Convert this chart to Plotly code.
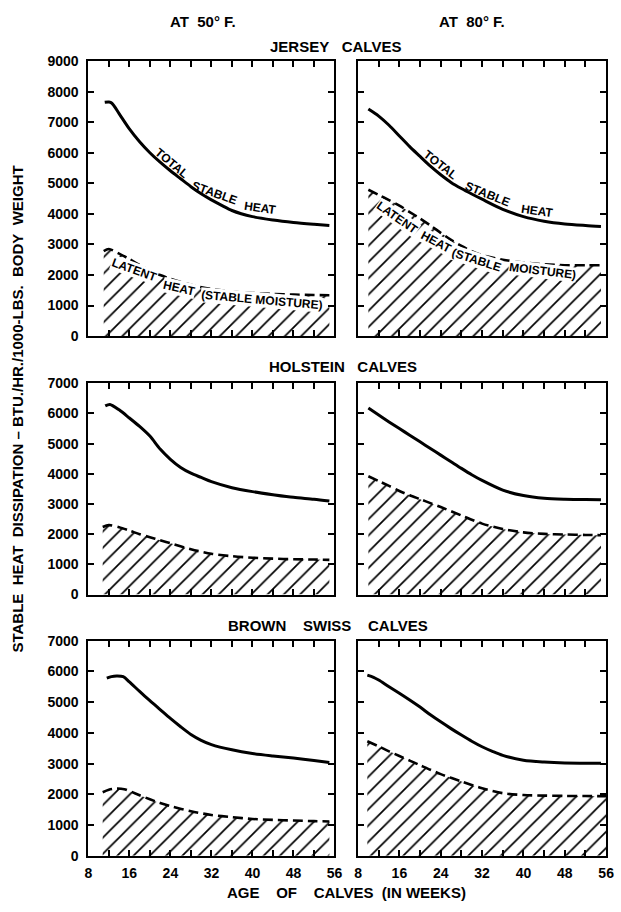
import plotly.graph_objects as go

# ---------------- data ----------------
x_tick_vals = [8, 12, 16, 20, 24, 28, 32, 36, 40, 44, 48, 52, 56]
x_tick_text = ["8", "", "16", "", "24", "", "32", "", "40", "", "48", "", "56"]
y_ticks_jersey = [0, 1000, 2000, 3000, 4000, 5000, 6000, 7000, 8000, 9000]
y_ticks_other = [0, 1000, 2000, 3000, 4000, 5000, 6000, 7000]

# Jersey at 50 F
jersey50_total_x = [11.2, 12.0, 12.6, 14, 16, 18, 20, 22, 24, 26, 28, 30, 32, 34, 36, 40, 44, 48, 52, 55]
jersey50_total_y = [7650, 7660, 7620, 7280, 6780, 6360, 6000, 5690, 5410, 5150, 4890, 4660, 4460, 4280, 4110, 3910, 3800, 3720, 3660, 3620]
jersey50_latent_x = [11, 12, 14, 16, 18, 20, 22, 24, 28, 32, 36, 40, 44, 48, 52, 55]
jersey50_latent_y = [2780, 2850, 2700, 2520, 2330, 2150, 2000, 1880, 1680, 1540, 1460, 1410, 1380, 1360, 1345, 1340]

# Jersey at 80 F
jersey80_total_x = [10, 12, 14, 16, 18, 20, 22, 24, 26, 28, 30, 32, 36, 40, 44, 48, 52, 55]
jersey80_total_y = [7430, 7200, 6900, 6550, 6200, 5880, 5560, 5280, 5030, 4830, 4650, 4480, 4150, 3910, 3760, 3670, 3620, 3590]
jersey80_latent_x = [10, 12, 14, 16, 18, 20, 22, 24, 26, 28, 30, 32, 36, 40, 44, 48, 52, 55]
jersey80_latent_y = [4790, 4620, 4450, 4270, 4060, 3850, 3620, 3380, 3150, 2950, 2780, 2650, 2500, 2410, 2350, 2320, 2320, 2320]

# Holstein at 50 F
holstein50_total_x = [11.3, 12.2, 14, 16, 18, 20, 22, 24, 26, 28, 30, 32, 36, 40, 44, 48, 52, 55]
holstein50_total_y = [6250, 6300, 6120, 5850, 5570, 5250, 4820, 4480, 4210, 4020, 3880, 3740, 3540, 3410, 3310, 3220, 3160, 3100]
holstein50_latent_x = [10.8, 12, 14, 16, 18, 20, 22, 24, 28, 32, 36, 40, 44, 48, 52, 55]
holstein50_latent_y = [2240, 2300, 2230, 2120, 2000, 1900, 1800, 1700, 1500, 1350, 1270, 1220, 1190, 1170, 1160, 1150]

# Holstein at 80 F
holstein80_total_x = [10, 12, 14, 16, 18, 20, 22, 24, 26, 28, 30, 32, 36, 40, 44, 48, 52, 55]
holstein80_total_y = [6180, 5950, 5720, 5500, 5280, 5060, 4840, 4620, 4400, 4180, 3970, 3780, 3460, 3280, 3190, 3160, 3150, 3140]
holstein80_latent_x = [10, 12, 14, 16, 18, 20, 22, 24, 28, 32, 36, 40, 44, 48, 52, 55]
holstein80_latent_y = [3920, 3760, 3600, 3430, 3290, 3160, 3030, 2900, 2620, 2350, 2170, 2060, 2010, 1990, 1975, 1965]

# Brown Swiss at 50 F
brown50_total_x = [11.6, 12.5, 13.5, 14.8, 16, 18, 20, 22, 24, 26, 28, 30, 32, 36, 40, 44, 48, 52, 55]
brown50_total_y = [5780, 5830, 5850, 5830, 5660, 5350, 5050, 4760, 4470, 4200, 3950, 3760, 3620, 3450, 3330, 3250, 3180, 3100, 3040]
brown50_latent_x = [10.8, 12, 13.5, 15, 16, 18, 20, 22, 24, 28, 32, 36, 40, 44, 48, 52, 55]
brown50_latent_y = [2070, 2150, 2190, 2170, 2110, 1970, 1840, 1720, 1620, 1450, 1330, 1260, 1200, 1170, 1150, 1130, 1120]

# Brown Swiss at 80 F
brown80_total_x = [9.8, 11, 12, 14, 16, 18, 20, 22, 24, 26, 28, 30, 32, 34, 36, 40, 44, 48, 52, 55]
brown80_total_y = [5880, 5810, 5720, 5500, 5290, 5070, 4840, 4590, 4360, 4140, 3930, 3730, 3550, 3400, 3270, 3110, 3050, 3020, 3015, 3010]
brown80_latent_x = [9.8, 12, 14, 16, 18, 20, 22, 24, 28, 32, 36, 40, 44, 48, 52, 56]
brown80_latent_y = [3730, 3560, 3400, 3250, 3100, 2950, 2800, 2660, 2420, 2200, 2040, 1980, 1960, 1950, 1945, 1940]

# ---------------- figure ----------------
W, H = 621, 912
FONT = "Liberation Sans"

def px(x):
    return x / W

def py(y):
    return 1 - y / H

x_dom_left = [px(86), px(337)]
x_dom_right = [px(361), px(614)]
y_dom = {
    "jersey": [py(334), py(54)],
    "holstein": [py(597), py(382)],
    "brown": [py(863), py(644)],
}

panels = [
    (1, "left", "jersey", jersey50_total_x, jersey50_total_y, jersey50_latent_x, jersey50_latent_y),
    (2, "right", "jersey", jersey80_total_x, jersey80_total_y, jersey80_latent_x, jersey80_latent_y),
    (3, "left", "holstein", holstein50_total_x, holstein50_total_y, holstein50_latent_x, holstein50_latent_y),
    (4, "right", "holstein", holstein80_total_x, holstein80_total_y, holstein80_latent_x, holstein80_latent_y),
    (5, "left", "brown", brown50_total_x, brown50_total_y, brown50_latent_x, brown50_latent_y),
    (6, "right", "brown", brown80_total_x, brown80_total_y, brown80_latent_x, brown80_latent_y),
]

fig = go.Figure()
layout = {}

for idx, col, row, tx, ty, lx, ly in panels:
    xa = "x" if idx == 1 else f"x{idx}"
    ya = "y" if idx == 1 else f"y{idx}"
    fig.add_trace(go.Scatter(
        x=lx, y=ly, xaxis=xa, yaxis=ya, mode="lines",
        line=dict(color="black", width=2.6, dash="10px,5px", shape="spline", smoothing=0.8),
        fill="tozeroy", fillcolor="rgba(0,0,0,0)",
        fillpattern=dict(shape="/", fgcolor="black", fgopacity=1,
                         bgcolor="rgba(255,255,255,0)", size=11.5, solidity=0.15),
        showlegend=False, hoverinfo="skip",
    ))
    fig.add_trace(go.Scatter(
        x=tx, y=ty, xaxis=xa, yaxis=ya, mode="lines",
        line=dict(color="black", width=3, shape="spline", smoothing=0.8),
        showlegend=False, hoverinfo="skip",
    ))
    bottom = row == "brown"
    xk = "xaxis" if idx == 1 else f"xaxis{idx}"
    yk = "yaxis" if idx == 1 else f"yaxis{idx}"
    layout[xk] = dict(
        domain=x_dom_left if col == "left" else x_dom_right,
        anchor=ya, range=[8, 56],
        tickmode="array", tickvals=x_tick_vals, ticktext=x_tick_text,
        showticklabels=bottom, ticks="inside", ticklen=6, tickwidth=2, tickcolor="black",
        showline=True, linewidth=2, linecolor="black", mirror="ticks",
        showgrid=False, zeroline=False, ticklabelstandoff=3,
        tickfont=dict(family=FONT, size=14, color="black", weight="bold"),
    )
    yt = y_ticks_jersey if row == "jersey" else y_ticks_other
    layout[yk] = dict(
        domain=y_dom[row], anchor=xa, range=[0, yt[-1]],
        tickmode="array", tickvals=yt, ticktext=[str(v) for v in yt],
        showticklabels=(col == "left"), ticks="inside", ticklen=6, tickwidth=2, tickcolor="black",
        showline=True, linewidth=2, linecolor="black", mirror="ticks",
        showgrid=False, zeroline=False, ticklabelstandoff=5,
        tickfont=dict(family=FONT, size=14, color="black", weight="bold"),
    )

annotations = []
NB = "\u00a0"

def paper_text(text, x, y, size=15, angle=0):
    annotations.append(dict(
        text=text, x=px(x), y=py(y), xref="paper", yref="paper",
        showarrow=False, textangle=angle, xanchor="center", yanchor="middle",
        font=dict(family=FONT, size=size, color="black", weight="bold"),
    ))

paper_text(f"AT{NB}{NB}50\u00b0{NB}F.", 203, 14)
paper_text(f"AT{NB}{NB}80\u00b0{NB}F.", 477, 14)
paper_text(f"JERSEY{NB*3}CALVES", 338, 39)
paper_text(f"HOLSTEIN{NB*3}CALVES", 346, 365)
paper_text(f"BROWN{NB*4}SWISS{NB*4}CALVES", 330, 629)
paper_text(f"AGE{NB*4}OF{NB*4}CALVES{NB*2}(IN{NB}WEEKS)", 349, 900)
paper_text(f"STABLE{NB*2}HEAT{NB*2}DISSIPATION{NB}\u2013{NB}BTU./HR./1000-LBS.{NB*2}BODY{NB*2}WEIGHT",
           14, 408, size=15, angle=-90)

def curve_label(text, axis_idx, x, y, angle, bg=None):
    xa = "x" if axis_idx == 1 else f"x{axis_idx}"
    ya = "y" if axis_idx == 1 else f"y{axis_idx}"
    d = dict(
        text=text, x=x, y=y, xref=xa, yref=ya, showarrow=False,
        textangle=angle, xanchor="center", yanchor="middle",
        font=dict(family=FONT, size=12, color="black", weight="bold"),
    )
    if bg:
        d["bgcolor"] = bg
        d["borderpad"] = 0
    annotations.append(d)

# Jersey 50 F labels
curve_label("TOTAL", 1, 24.2, 5650, 40)
curve_label("STABLE", 1, 32.6, 4680, 20)
curve_label("HEAT", 1, 41.5, 4180, 8)
curve_label("LATENT", 1, 17.0, 2180, 20, "white")
curve_label("HEAT", 1, 25.6, 1560, 13, "white")
curve_label(f"(STABLE{NB}MOISTURE)", 1, 41.8, 1180, 5, "white")
# Jersey 80 F labels
curve_label("TOTAL", 2, 24.0, 5600, 38)
curve_label("STABLE", 2, 33.0, 4650, 22)
curve_label("HEAT", 2, 42.7, 4080, 8)
curve_label("LATENT", 2, 15.7, 3881, 35, "white")
curve_label("HEAT", 2, 23.1, 3077, 28, "white")
curve_label("(STABLE", 2, 30.9, 2485, 18, "white")
curve_label("MOISTURE)", 2, 43.7, 2144, 7, "white")

layout["annotations"] = annotations
fig.update_layout(
    width=W, height=H,
    margin=dict(l=0, r=0, t=0, b=0),
    paper_bgcolor="white", plot_bgcolor="white",
    showlegend=False,
    **layout,
)

fig.write_html("out.html", config={"displayModeBar": False},
               post_script="document.body.style.margin='0';document.body.style.padding='0';")
